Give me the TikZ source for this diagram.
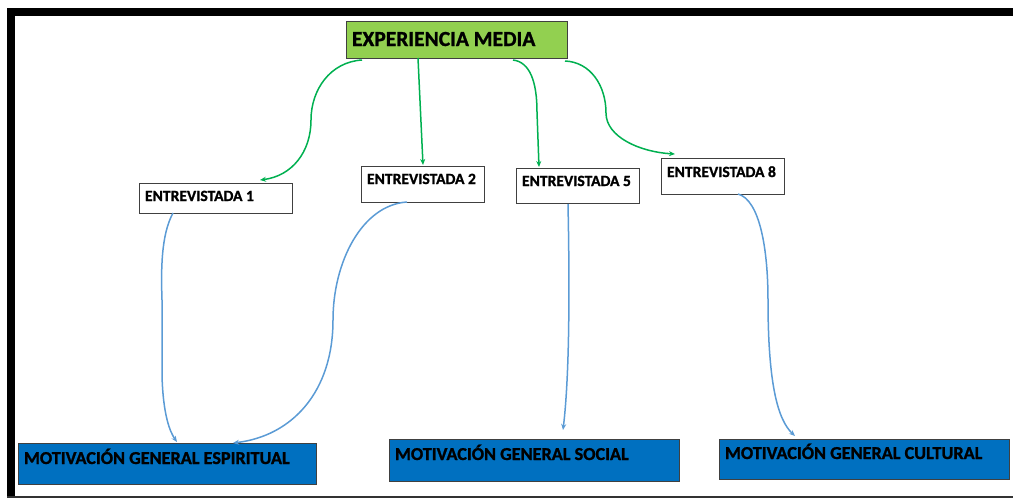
\documentclass[tikz,border=0pt]{standalone}
\usepackage{fontspec}
\setmainfont{Carlito}[BoldFeatures={FakeBold=1.2}]
\usetikzlibrary{arrows.meta,calc}
\definecolor{cgreen}{HTML}{00B050}
\definecolor{cfill}{HTML}{92D050}
\definecolor{cblue}{HTML}{0070C0}
\definecolor{clink}{HTML}{5B9BD5}
\definecolor{cedge}{HTML}{404040}
\tikzset{
  box/.style={draw=cedge, line width=1pt, anchor=north west, inner xsep=6pt, inner ysep=0pt, outer sep=0pt, align=flush left},
  topbox/.style={box, fill=cfill, font=\fontsize{21.5}{24}\selectfont\bfseries},
  interbox/.style={box, fill=white, font=\fontsize{15.6}{18}\selectfont\bfseries},
  motbox/.style={box, fill=cblue, font=\fontsize{18.2}{22}\selectfont\bfseries},
  glink/.style={draw=cgreen, line width=1.5pt, -{Stealth[length=6pt,width=5pt]}},
  blink/.style={draw=clink, line width=1.5pt, -{Stealth[length=6pt,width=5pt]}}
}
\begin{document}
\begin{tikzpicture}[x=1pt,y=-1pt]
\useasboundingbox (0,0) rectangle (1013,499);
% frame
\fill[black] (7,8) rectangle (1013,16);
\fill[black] (7,8) rectangle (15,498);
\draw[line width=1.3pt, black!80] (7,497) -- (1013,497);

% nodes
\node[topbox, text width=209pt, text height=25pt, text depth=12pt] (exp) at (346,21) {EXPERIENCIA MEDIA};
\node[interbox, text width=141pt, text height=18pt, text depth=12pt] (e1) at (139,183) {ENTREVISTADA 1};
\node[interbox, text width=111pt, text height=18pt, text depth=18pt] (e2) at (361,166) {ENTREVISTADA 2};
\node[interbox, text width=111pt, text height=18pt, text depth=17pt] (e5) at (516,168) {ENTREVISTADA 5};
\node[interbox, text width=111pt, text height=19pt, text depth=17pt] (e8) at (661,158) {ENTREVISTADA 8};
\node[motbox, text width=286pt, text height=21pt, text depth=20pt] (mge) at (18,443) {MOTIVACIÓN GENERAL ESPIRITUAL};
\node[motbox, text width=278pt, text height=21pt, text depth=21pt] (mgs) at (389,439) {MOTIVACIÓN GENERAL SOCIAL};
\node[motbox, text width=278pt, text height=20pt, text depth=20pt] (mgc) at (719,439) {MOTIVACIÓN GENERAL CULTURAL};

% green connectors
\draw[glink] ($(exp.south west)+(16,2)$) .. controls (330,62) and (311,90) .. (311,120)
  .. controls (311,152) and (292,176) .. ($(e1.north west)+(121,-3)$);
\draw[glink] ($(exp.south west)+(72,0)$) -- ($(e2.north west)+(62,-1)$);
\draw[glink] ($(exp.south west)+(167,2)$) .. controls (530,62) and (537,82) .. (537,112)
  -- ($(e5.north west)+(23,-1)$);
\draw[glink] ($(exp.south west)+(219,3)$) .. controls (590,62) and (606,85) .. (606,113)
  .. controls (606,137) and (640,152) .. ($(e8.north west)+(14,-4)$);

% blue connectors
\draw[blink] ($(e1.south west)+(34,0)$) .. controls (161,235) and (161,270) .. (162,300)
  -- (162,375) .. controls (163,415) and (170,432) .. ($(mge.north west)+(159,-1)$);
\draw[blink] ($(e2.south west)+(46,0)$) .. controls (362,205) and (333,262) .. (333,320)
  .. controls (333,392) and (292,436) .. ($(mge.north west)+(215,0)$);
\draw[blink] ($(e5.south west)+(52,1)$) .. controls (570,300) and (569,380) .. ($(mgs.north west)+(174,-9)$);
\draw[blink] ($(e8.south west)+(77,0)$) .. controls (760,200) and (768,250) .. (768,300)
  .. controls (768,385) and (778,420) .. ($(mgc.north west)+(76,-3)$);
\end{tikzpicture}
\end{document}
